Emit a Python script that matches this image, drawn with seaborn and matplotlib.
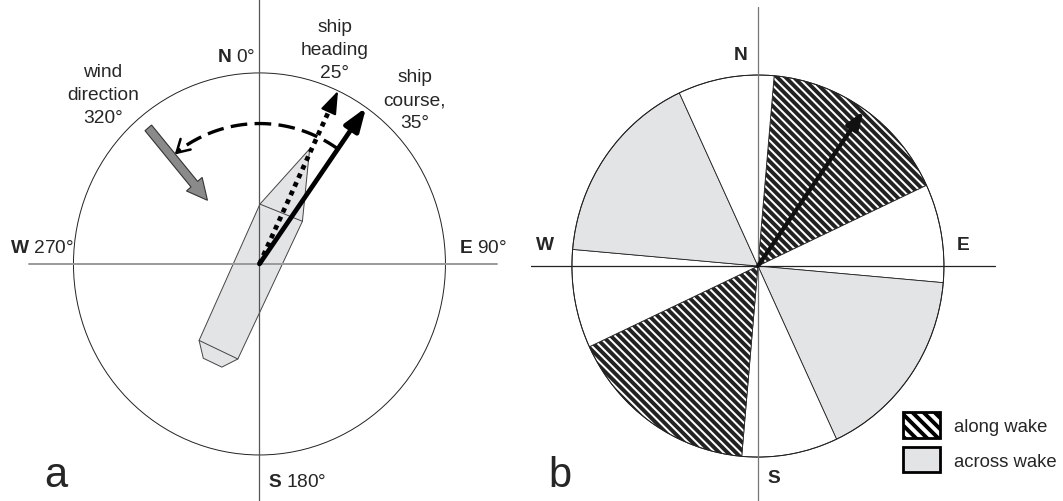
import numpy as np
import seaborn as sns
import matplotlib.pyplot as plt
from matplotlib.patches import Wedge, Circle, Polygon, Patch

# angles are compass bearings in degrees (clockwise from north)
wind_dir = 320
heading = 25
course = 35

# sectors of panel b: edges and what each sector is
sector_edges = [5, 65, 95, 155, 185, 245, 275, 335, 365]
sector_kind = ['along', 'blank', 'across', 'blank', 'along', 'blank', 'across', 'blank']

# ship outline in its own frame (u along heading, v to starboard), circle radius = 1
hull_u = [0.66, 0.30, -0.50, -0.575, -0.575, -0.50, 0.285]
hull_v = [-0.01, 0.115, 0.105, 0.045, -0.065, -0.125, -0.13]

compass_a = ['$\\mathbf{N}$ 0°', '$\\mathbf{E}$ 90°', '$\\mathbf{S}$ 180°', '$\\mathbf{W}$ 270°']
compass_b = ['N', 'E', 'S', 'W']
legend_labels = ['along wake', 'across wake']

sns.set_theme(style='white')
plt.rcParams['font.family'] = ['Liberation Sans', 'DejaVu Sans']
plt.rcParams['mathtext.fontset'] = 'custom'
plt.rcParams['mathtext.rm'] = 'Liberation Sans'
plt.rcParams['mathtext.bf'] = 'Liberation Sans:bold'
plt.rcParams['hatch.linewidth'] = 2.8

GREY = '#e3e4e6'


def pol(bearing, r):
    b = np.deg2rad(bearing)
    return r * np.sin(b), r * np.cos(b)


fig = plt.figure(figsize=(10.63, 5.02), dpi=100)
ax_a = fig.add_axes([0, 0, 531 / 1063, 1])
ax_b = fig.add_axes([531 / 1063, 0, 532 / 1063, 1])
ax_a.set_xlim(-1.395, 1.460)
ax_a.set_ylim(-1.241, 1.387)
ax_b.set_xlim(-1.220, 1.640)
ax_b.set_ylim(-1.230, 1.398)
for ax in (ax_a, ax_b):
    ax.set_axis_off()

# ---------- panel a ----------
ax_a.add_patch(Circle((0, 0), 1, fill=False, ec='#222222', lw=0.7, zorder=1))

h = np.deg2rad(heading)
hu, hv = np.array(hull_u), np.array(hull_v)
hx = hu * np.sin(h) + hv * np.cos(h)
hy = hu * np.cos(h) - hv * np.sin(h)
ax_a.add_patch(Polygon(np.column_stack([hx, hy]), closed=True, fc=GREY, ec='#444444', lw=0.7, zorder=2))
# cross lines of the hull (shoulders and transom)
ax_a.plot([hx[1], hx[6]], [hy[1], hy[6]], color='#444444', lw=0.7, zorder=2)
ax_a.plot([hx[2], hx[5]], [hy[2], hy[5]], color='#444444', lw=0.7, zorder=2)

ax_a.plot([0, 0], [-1.241, 1.387], color='#555555', lw=0.9, zorder=3)
ax_a.plot([-1.239, 1.277], [0, 0], color='#999999', lw=1.4, zorder=3)

# ship heading (dotted)
hx0, hy0 = pol(heading, 0.9)
hx1, hy1 = pol(heading, 1.0)
sns.lineplot(x=[0, hx0], y=[0, hy0], sort=False, estimator=None, ax=ax_a, color='black',
             lw=3.4, linestyle=(0, (1, 1)), dash_capstyle='butt', zorder=4)
ax_a.annotate('', xy=(hx1, hy1), xytext=(hx0, hy0),
              arrowprops=dict(arrowstyle='-|>,head_length=0.7,head_width=0.25', mutation_scale=20,
                              color='black', lw=1.5, shrinkA=0, shrinkB=0), zorder=4)

# ship course (solid)
cx1, cy1 = pol(course, 1.0)
ax_a.annotate('', xy=(cx1, cy1), xytext=(0, 0),
              arrowprops=dict(arrowstyle='-|>,head_length=0.7,head_width=0.25', mutation_scale=20,
                              color='black', lw=3.4, shrinkA=0, shrinkB=0), zorder=5)

# dashed arc from course round to wind direction
arc_b = np.linspace(course, wind_dir + 3 - 360, 80)
ax_, ay_ = pol(arc_b, 0.735)
sns.lineplot(x=ax_, y=ay_, sort=False, estimator=None, ax=ax_a, color='black',
             lw=2.4, linestyle=(0, (5, 2.2)), zorder=4)
ex0, ey0 = pol(wind_dir + 4, 0.735)
ex1, ey1 = pol(wind_dir + 1.5, 0.732)
ax_a.annotate('', xy=(ex1, ey1), xytext=(ex0, ey0),
              arrowprops=dict(arrowstyle='->,head_length=0.6,head_width=0.35', mutation_scale=15,
                              color='black', lw=1.8, shrinkA=0, shrinkB=0), zorder=4)

# wind arrow
wx0, wy0 = pol(wind_dir, 0.93)
wx1, wy1 = pol(wind_dir, 0.435)
ax_a.arrow(wx0, wy0, wx1 - wx0, wy1 - wy0, width=0.046, head_width=0.11, head_length=0.11,
           length_includes_head=True, fc='#8a8a8a', ec='#333333', lw=0.8, zorder=4)

fs = 13.8
ax_a.text(-0.024, 1.064, compass_a[0], ha='right', va='baseline', fontsize=fs)
ax_a.text(1.073, 0.063, compass_a[1], ha='left', va='baseline', fontsize=fs)
ax_a.text(0.046, -1.162, compass_a[2], ha='left', va='baseline', fontsize=fs)
ax_a.text(-1.341, 0.063, compass_a[3], ha='left', va='baseline', fontsize=fs)
ax_a.text(-0.841, 0.743, 'wind\ndirection\n320°', ha='center', va='baseline', fontsize=fs,
          multialignment='center', linespacing=1.45)
ax_a.text(0.406, 0.979, 'ship\nheading\n25°', ha='center', va='baseline', fontsize=fs,
          multialignment='center', linespacing=1.45)
ax_a.text(0.836, 0.717, 'ship\ncourse,\n35°', ha='center', va='baseline', fontsize=fs,
          multialignment='center', linespacing=1.45)
ax_a.text(-1.094, -1.16, 'a', ha='center', va='baseline', fontsize=30)

# ---------- panel b ----------
for b1, b2, kind in zip(sector_edges[:-1], sector_edges[1:], sector_kind):
    if kind == 'along':
        w = Wedge((0, 0), 1, 90 - b2, 90 - b1, fc='white', ec='#222222', lw=0.6, hatch='\\\\\\\\')
    elif kind == 'across':
        w = Wedge((0, 0), 1, 90 - b2, 90 - b1, fc=GREY, ec='#222222', lw=0.6)
    else:
        w = Wedge((0, 0), 1, 90 - b2, 90 - b1, fc='white', ec='#222222', lw=0.6)
    ax_b.add_patch(w)
ax_b.add_patch(Circle((0, 0), 1, fill=False, ec='#222222', lw=0.7, zorder=2))

ax_b.plot([0, 0], [-1.230, 1.356], color='#777777', lw=0.9, zorder=3)
ax_b.plot([-1.226, 1.274], [0, 0], color='#222222', lw=0.9, zorder=3)

bx1, by1 = pol(course, 0.99)
ax_b.annotate('', xy=(bx1, by1), xytext=(0, 0),
              arrowprops=dict(arrowstyle='-|>,head_length=0.6,head_width=0.22', mutation_scale=18,
                              color='#111111', lw=3.0, shrinkA=0, shrinkB=0), zorder=5)

ax_b.text(-0.094, 1.084, compass_b[0], ha='center', va='baseline', fontsize=fs, fontweight='bold')
ax_b.text(1.105, 0.089, compass_b[1], ha='center', va='baseline', fontsize=fs, fontweight='bold')
ax_b.text(0.086, -1.131, compass_b[2], ha='center', va='baseline', fontsize=fs, fontweight='bold')
ax_b.text(-1.145, 0.089, compass_b[3], ha='center', va='baseline', fontsize=fs, fontweight='bold')
ax_b.text(-1.066, -1.149, 'b', ha='center', va='baseline', fontsize=30)

handles = [Patch(fc='white', ec='black', hatch='\\\\\\', lw=2),
           Patch(fc=GREY, ec='black', lw=2)]
ax_b.legend(handles, legend_labels, loc='upper left', bbox_to_anchor=(0.78, -0.764),
            bbox_transform=ax_b.transData, frameon=False, fontsize=13.3,
            handlelength=2.0, handleheight=1.75, handletextpad=0.75, labelspacing=0.5,
            borderpad=0, borderaxespad=0)

fig.savefig('out.png', dpi=100)
